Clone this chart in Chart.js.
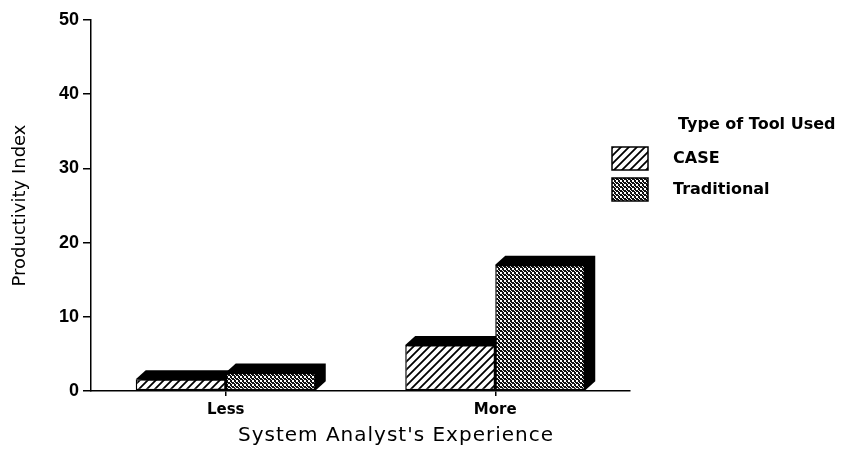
<!DOCTYPE html>
<html>
<head>
<meta charset="utf-8">
<script src="https://cdn.jsdelivr.net/npm/chart.js@4"></script>
<style>
	body { margin: 0; background: #fff; }
</style>
</head>
<body>
<canvas id="myChart" width="845" height="455"></canvas>
<script>
var categories = ["Less", "More"];
var caseValues = [1.6, 6.2];
var traditionalValues = [2.5, 17.0];
var seriesNames = ["CASE", "Traditional"];
var legendTitle = "Type of Tool Used";
var xTitle = "System Analyst's Experience";
var yTitle = "Productivity Index";

// hatch tile for CASE
function hatchPattern() {
	var c = document.createElement("canvas");
	c.width = 8; c.height = 8;
	var g = c.getContext("2d");
	g.fillStyle = "#fff";
	g.fillRect(0, 0, 8, 8);
	g.strokeStyle = "#000";
	g.lineWidth = 1.8;
	g.beginPath();
	g.moveTo(-1, 9); g.lineTo(9, -1);
	g.moveTo(-3, 3); g.lineTo(3, -3);
	g.moveTo(5, 11); g.lineTo(11, 5);
	g.stroke();
	return g.createPattern(c, "repeat");
}

// fine dot tile for Traditional
function dotPattern() {
	var c = document.createElement("canvas");
	c.width = 4; c.height = 4;
	var g = c.getContext("2d");
	g.fillStyle = "#111";
	g.fillRect(0, 0, 4, 4);
	g.fillStyle = "#fff";
	g.fillRect(0, 0, 2, 2);
	g.fillRect(2, 2, 1, 1);
	g.fillRect(3, 3, 1, 1);
	return g.createPattern(c, "repeat");
}

var depthX = 10;
var depthY = 9;

var depthPlugin = {
	id: "depth",
	beforeDatasetsDraw: function(chart) {
		var ctx = chart.ctx;
		ctx.save();
		ctx.fillStyle = "#000";
		chart.data.datasets.forEach(function(ds, i) {
			var meta = chart.getDatasetMeta(i);
			meta.data.forEach(function(bar) {
				var p = bar.getProps(["x", "y", "base", "width"], true);
				var l = p.x - p.width / 2, r = p.x + p.width / 2;
				ctx.beginPath();
				ctx.moveTo(l, p.y);
				ctx.lineTo(l + depthX, p.y - depthY);
				ctx.lineTo(r + depthX, p.y - depthY);
				ctx.lineTo(r + depthX, p.base - depthY);
				ctx.lineTo(r, p.base);
				ctx.closePath();
				ctx.fill();
			});
		});
		ctx.restore();
	},
	afterDraw: function(chart) {
		var ctx = chart.ctx;
		ctx.save();
		ctx.fillStyle = "#000";
		ctx.textBaseline = "middle";

		// x axis title
		ctx.font = "20px 'DejaVu Sans'";
		ctx.letterSpacing = "1px";
		ctx.textAlign = "center";
		ctx.fillText(xTitle, 396, 436);
		ctx.letterSpacing = "0px";

		// legend
		ctx.textAlign = "left";
		ctx.font = "bold 16px 'DejaVu Sans'";
		ctx.fillText(legendTitle, 678, 125);
		var rows = [147, 178];
		chart.data.datasets.forEach(function(ds, i) {
			ctx.fillStyle = ds.backgroundColor;
			ctx.fillRect(612, rows[i], 36, 23);
			ctx.strokeStyle = "#000";
			ctx.lineWidth = 1.5;
			ctx.strokeRect(612, rows[i], 36, 23);
			ctx.fillStyle = "#000";
			ctx.fillText(ds.label, 673, rows[i] + 12);
		});
		ctx.restore();
	}
};

var ctx = document.getElementById("myChart");

var data = {
	labels: categories,
	datasets: [
		{
			label: seriesNames[0],
			data: caseValues,
			backgroundColor: hatchPattern(),
			borderColor: "#000",
			borderWidth: 1.5,
			borderSkipped: false
		},
		{
			label: seriesNames[1],
			data: traditionalValues,
			backgroundColor: dotPattern(),
			borderColor: "#000",
			borderWidth: 1.5,
			borderSkipped: false
		}
	]
};

var myChart = new Chart(ctx, {
	type: "bar",
	data: data,
	plugins: [depthPlugin],
	options: {
		responsive: false,
		animation: false,
		datasets: {
			bar: { categoryPercentage: 0.668, barPercentage: 1.0 }
		},
		layout: { padding: { top: 20, right: 215, left: 0, bottom: 0 } },
		plugins: {
			legend: { display: false },
			tooltip: { enabled: false }
		},
		scales: {
			x: {
				afterFit: function(scale) { scale.height = 64; },
				grid: { drawOnChartArea: false, offset: false, tickLength: 5, color: "#000", lineWidth: 1.5 },
				border: { display: true, color: "#000", width: 1.5 },
				ticks: { color: "#000", padding: 5, font: { family: "'DejaVu Sans'", size: 15, weight: "bold" } }
			},
			y: {
				min: 0,
				max: 50,
				afterFit: function(scale) { scale.width = 91; },
				grid: { drawOnChartArea: false, tickLength: 8, color: "#000", lineWidth: 1.5 },
				border: { display: true, color: "#000", width: 1.5 },
				ticks: { stepSize: 10, color: "#000", padding: 4, font: { family: "'Liberation Sans'", size: 18, weight: "bold" } },
				title: {
					display: true,
					text: yTitle,
					color: "#000",
					padding: { top: 10 },
					font: { family: "'DejaVu Sans'", size: 18 }
				}
			}
		}
	}
});
</script>
</body>
</html>
